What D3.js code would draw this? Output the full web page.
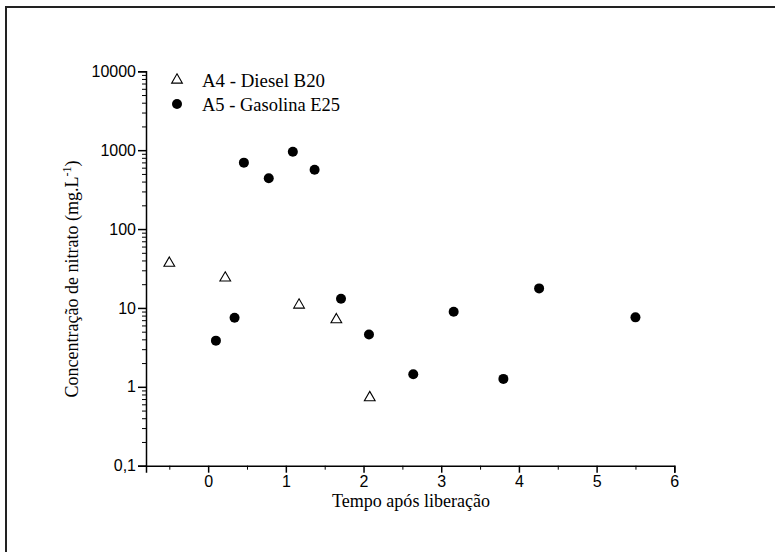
<!DOCTYPE html>
<html>
<head>
	<meta charset="utf-8">
	<script src="https://d3js.org/d3.v7.min.js"></script>
	<title>Nitrato</title>
	<style>
		body { margin: 0; background: #fff; }
	</style>
</head>
<body>
	<div id="chart"></div>

	<script type="text/javascript">

		// A4 - Diesel B20 (triangles)
		var dieselX = [-0.5, 0.22, 1.17, 1.65, 2.08];
		var dieselY = [37, 24, 10.9, 7.1, 0.73];

		// A5 - Gasolina E25 (circles)
		var gasX = [0.46, 0.78, 1.09, 1.37, 0.10, 0.34, 1.71, 2.07, 2.64, 3.16, 3.80, 4.26, 5.50];
		var gasY = [695, 441, 957, 566, 3.85, 7.5, 13.1, 4.6, 1.44, 8.97, 1.26, 17.7, 7.6];

		var seriesNames = ["A4 - Diesel B20", "A5 - Gasolina E25"];
		var xTicks = [0, 1, 2, 3, 4, 5, 6];
		var xMinorTicks = [-0.5, 0.5, 1.5, 2.5, 3.5, 4.5, 5.5];
		var yTicks = [0.1, 1, 10, 100, 1000, 10000];
		var yTickLabels = ["0,1", "1", "10", "100", "1000", "10000"];

		var width = 775, height = 552;

		var svg = d3.select("#chart").append("svg")
			.attr("width", width)
			.attr("height", height);

		// frame (only top and left edges show in the picture)
		svg.append("path")
			.attr("d", "M6,552 V7 H775")
			.attr("fill", "none")
			.attr("stroke", "#222")
			.attr("stroke-width", 2);

		var xScale = d3.scaleLinear().domain([-0.8, 6]).range([146, 674.3]);
		var yScale = d3.scaleLog().domain([0.1, 10000]).range([465.7, 71.3]);

		// minor ticks for the log axis: 2..9 in each decade
		var yMinor = [];
		yTicks.slice(0, -1).forEach(function(t){
			for (var k = 2; k <= 9; k++) yMinor.push(t * k);
		});

		var font = "'Liberation Sans', Arial, sans-serif";
		var serif = "'Liberation Serif', 'Times New Roman', serif";

		// y axis
		var yAxis = svg.append("g")
			.attr("transform", "translate(" + xScale.range()[0] + ",0)")
			.call(d3.axisLeft(yScale).tickValues(yTicks).tickSize(8).tickPadding(2)
				.tickFormat(function(d, i){ return yTickLabels[i]; }));
		yAxis.selectAll(".tick line").attr("stroke-width", 1.5);
		svg.append("g")
			.attr("transform", "translate(" + xScale.range()[0] + ",0)")
			.call(d3.axisLeft(yScale).tickValues(yMinor).tickSize(4).tickFormat(""))
			.select(".domain").remove();

		// x axis
		var xAxis = svg.append("g")
			.attr("transform", "translate(0," + yScale.range()[0] + ")")
			.call(d3.axisBottom(xScale).tickValues(xTicks).tickSize(7).tickPadding(3)
				.tickFormat(d3.format("d")));
		xAxis.selectAll(".tick line").attr("stroke-width", 1.5);
		svg.append("g")
			.attr("transform", "translate(0," + yScale.range()[0] + ")")
			.call(d3.axisBottom(xScale).tickValues(xMinorTicks).tickSize(4).tickFormat(""))
			.select(".domain").remove();

		svg.selectAll(".domain").attr("stroke-width", 1.5);
		svg.selectAll(".tick text")
			.attr("font-family", font)
			.attr("font-size", 16)
			.attr("fill", "#000");

		// axis titles
		svg.append("text")
			.attr("x", 411)
			.attr("y", 507)
			.attr("text-anchor", "middle")
			.attr("font-family", serif)
			.attr("font-size", 18)
			.attr("textLength", 158)
			.attr("lengthAdjust", "spacingAndGlyphs")
			.text("Tempo após liberação");

		var yTitle = svg.append("text")
			.attr("transform", "translate(78,279) rotate(-90)")
			.attr("text-anchor", "middle")
			.attr("font-family", serif)
			.attr("font-size", 18);
		yTitle.append("tspan").text("Concentração de nitrato (mg.L");
		yTitle.append("tspan").attr("baseline-shift", "super").attr("font-size", 12).text("-1");
		yTitle.append("tspan").text(")");

		// markers
		var tri = d3.symbol().type(d3.symbolTriangle).size(50);

		svg.append("g").selectAll("path")
			.data(d3.zip(dieselX, dieselY))
			.enter().append("path")
			.attr("d", tri)
			.attr("transform", function(d){ return "translate(" + xScale(d[0]) + "," + yScale(d[1]) + ")"; })
			.attr("fill", "#fff")
			.attr("stroke", "#000")
			.attr("stroke-width", 1.1);

		svg.append("g").selectAll("circle")
			.data(d3.zip(gasX, gasY))
			.enter().append("circle")
			.attr("cx", function(d){ return xScale(d[0]); })
			.attr("cy", function(d){ return yScale(d[1]); })
			.attr("r", 5)
			.attr("fill", "#000");

		// legend
		var legendWidths = [123, 138];
		var legend = svg.append("g").attr("transform", "translate(177,80)");
		legend.append("path")
			.attr("d", tri)
			.attr("fill", "#fff")
			.attr("stroke", "#000")
			.attr("stroke-width", 1.1);
		legend.append("circle")
			.attr("cy", 24)
			.attr("r", 5)
			.attr("fill", "#000");
		legend.selectAll("text")
			.data(seriesNames)
			.enter().append("text")
			.attr("x", 25)
			.attr("y", function(d, i){ return i * 24 + 7; })
			.attr("font-family", serif)
			.attr("font-size", 18)
			.attr("textLength", function(d, i){ return legendWidths[i]; })
			.attr("lengthAdjust", "spacingAndGlyphs")
			.text(function(d){ return d; });

	</script>
</body>
</html>
